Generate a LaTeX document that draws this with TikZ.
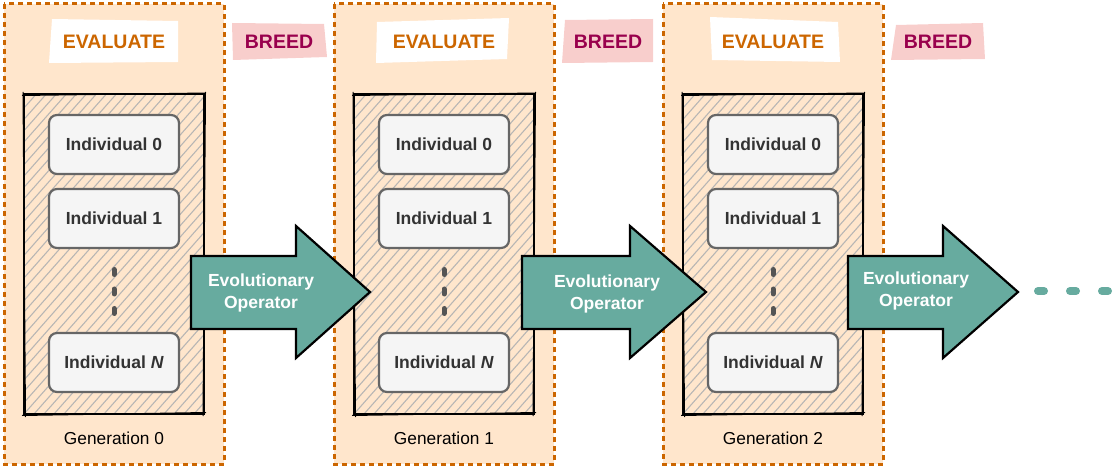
\documentclass[tikz,border=0pt]{standalone}
\usepackage{fontspec}
\setmainfont{Liberation Sans}
\definecolor{peach}{HTML}{FFE6CC}
\definecolor{evorange}{HTML}{CC6600}
\definecolor{breedtext}{HTML}{99004D}
\definecolor{breedfill}{HTML}{F8CECC}
\definecolor{tealfill}{HTML}{67AB9F}
\definecolor{indfill}{HTML}{F5F5F5}
\definecolor{indline}{HTML}{666666}
\definecolor{indtext}{HTML}{333333}
\definecolor{hatchcol}{HTML}{B8B6B4}
\definecolor{dotcol}{HTML}{555555}
\tikzset{
  genbox/.style={fill=peach, draw=evorange, line width=3pt, dash pattern=on 5pt off 4pt},
  popbox/.style={draw=black, line width=2.3pt},
  popsketch/.style={draw=black, line width=1pt},
  hatchline/.style={draw=hatchcol, line width=1.1pt},
  indbox/.style={draw=indline, fill=indfill, line width=2.2pt, rounded corners=8pt,
    minimum width=130pt, minimum height=59pt, inner sep=0pt,
    font=\fontsize{17.5}{21}\selectfont\bfseries, text=indtext},
  evalbox/.style={fill=white},
  evaltext/.style={font=\fontsize{19.5}{23}\selectfont\bfseries, text=evorange},
  breedbox/.style={fill=breedfill},
  breedtxt/.style={font=\fontsize{19.5}{23}\selectfont\bfseries, text=breedtext},
  gentext/.style={font=\fontsize{17.3}{20}\selectfont, text=black},
  evoarrow/.style={fill=tealfill, draw=black, line width=2.2pt, line join=miter},
  evotext/.style={font=\fontsize{17.5}{22}\selectfont\bfseries, text=white, align=center},
  vdot/.style={draw=dotcol, line width=5pt, line cap=round},
  tdot/.style={draw=tealfill, line width=8pt, line cap=round}
}
\begin{document}
\begin{tikzpicture}[x=1pt,y=-1pt]
\useasboundingbox (0,0) rectangle (1119,470);

% generation columns
\foreach \g/\o in {0/0,1/330,2/659}{
  \draw[genbox] (4+\o,4) rectangle (224+\o,464);
  \begin{scope}
    \clip (24+\o,94) rectangle (204+\o,414);
    \foreach \i in {-37,...,21}{
      \draw[hatchline] (24+\o+\i*10,414) -- ++(300,-340);
    }
  \end{scope}
  \draw[popbox] (24+\o,94) rectangle (204+\o,414);
  \draw[popsketch] (22+\o,95.5) -- (206+\o,93) (205.5+\o,92) -- (203+\o,416)
                   (206+\o,412.5) -- (22+\o,415.5) (25.5+\o,417) -- (23+\o,92);
  \node[indbox] (ind0-\g) at (114+\o,144.5) {Individual 0};
  \node[indbox] (ind1-\g) at (114+\o,218.5) {Individual 1};
  \node[indbox] (indN-\g) at (114+\o,362.5) {Individual \textit{N}};
  \coordinate (d1-\g) at (114+\o,272);
  \coordinate (d2-\g) at (114+\o,291.5);
  \coordinate (d3-\g) at (114+\o,311);
  \draw[vdot] ([yshift=-2.5pt]d1-\g) -- ([yshift=2.5pt]d1-\g);
  \draw[vdot] ([yshift=-2.5pt]d2-\g) -- ([yshift=2.5pt]d2-\g);
  \draw[vdot] ([yshift=-2.5pt]d3-\g) -- ([yshift=2.5pt]d3-\g);
  \node[gentext] (gen-\g) at (114+\o,438) {Generation \g};
}

% EVALUATE labels
\fill[evalbox] (52,19) -- (178,21) -- (178,62) -- (49,63) -- cycle;
\node[evaltext] (eval-0) at (114,41.5) {EVALUATE};
\fill[evalbox] (377,22) -- (509,18) -- (507,59) -- (376,63) -- cycle;
\node[evaltext] (eval-1) at (444,41.5) {EVALUATE};
\fill[evalbox] (710,17) -- (838,22) -- (840,62) -- (712,60) -- cycle;
\node[evaltext] (eval-2) at (773,41.5) {EVALUATE};

% BREED labels
\fill[breedbox] (232,23) -- (324,24) -- (327,57) -- (233,60) -- cycle;
\node[breedtxt] (breed-0) at (279,41.5) {BREED};
\fill[breedbox] (565,20) -- (653,19) -- (653,62) -- (562,63) -- cycle;
\node[breedtxt] (breed-1) at (608,41.5) {BREED};
\fill[breedbox] (896,25) -- (983,23) -- (985,59) -- (891,60) -- cycle;
\node[breedtxt] (breed-2) at (938,41.5) {BREED};

% evolutionary operator arrows
\foreach \n/\l/\b/\t in {0/191/296/370, 1/522/630/706, 2/848/943/1018}{
  \draw[evoarrow] (\l,256) -- (\b,256) -- (\b,226) -- (\t,292) -- (\b,358) -- (\b,329) -- (\l,329) -- cycle;
}
\node[evotext] (op-0) at (261,293) {Evolutionary\\Operator};
\node[evotext] (op-1) at (607,294) {Evolutionary\\Operator};
\node[evotext] (op-2) at (916,291) {Evolutionary\\Operator};

% continuation dots
\coordinate (c1) at (1041,291);
\coordinate (c2) at (1073,291);
\coordinate (c3) at (1105,291);
\draw[tdot] ([xshift=-3pt]c1) -- ([xshift=3pt]c1);
\draw[tdot] ([xshift=-3pt]c2) -- ([xshift=3pt]c2);
\draw[tdot] ([xshift=-3pt]c3) -- ([xshift=3pt]c3);
\end{tikzpicture}
\end{document}
